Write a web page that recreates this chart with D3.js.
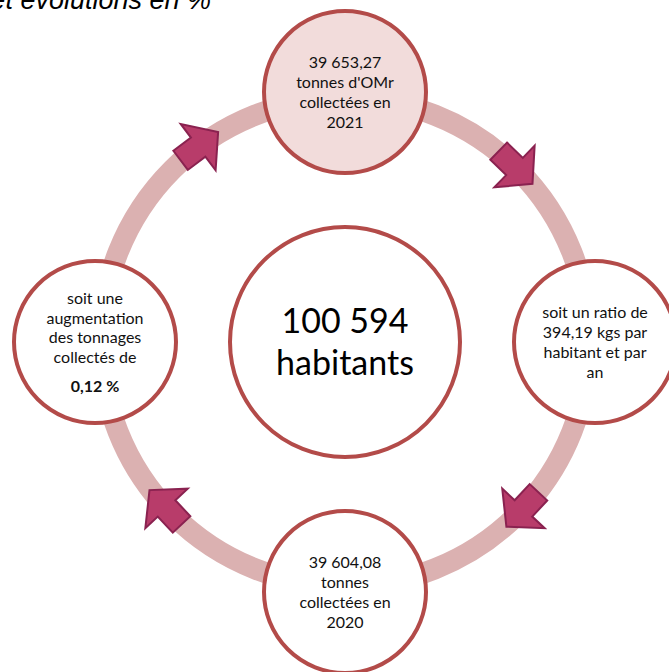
<!DOCTYPE html>
<html>
<head>
<meta charset="utf-8">
<script src="https://cdn.jsdelivr.net/npm/d3@7/dist/d3.min.js"></script>
<style>
  html, body { margin: 0; padding: 0; background: #ffffff; }
  svg { display: block; }
</style>
</head>
<body>
<svg id="chart" width="669" height="672"></svg>
<script>
// ---------- data ----------
const titleText = "et évolutions en %";
const centerLines = ["100 594", "habitants"];
const satelliteAngles = [-90, 0, 90, 180];           // degrees: top, right, bottom, left
const satelliteLines = [
  ["39 653,27", "tonnes d'OMr", "collectées en", "2021"],
  ["soit un ratio de", "394,19 kgs par", "habitant et par", "an"],
  ["39 604,08", "tonnes", "collectées en", "2020"],
  ["soit une", "augmentation", "des tonnages", "collectés de"]
];
const satelliteBold = ["", "", "", "0,12 %"];
const arrowAngles = [-127, -46, 43, 137];            // degrees along the cycle

// ---------- layout / style ----------
const W = 669, H = 672;
const cx = 345, cy = 342;
const ringR = 244, ringW = 21;
const satR = 250, satCircleR = 81;
const centerR = 115;
const strokeCol = "#b34b49";
const ringCol = "#dbb1b1";
const arrowFill = "#b83c6a", arrowStroke = "#8a2250";
const font = "Lato, 'Open Sans', sans-serif";

const svg = d3.select("#chart");
const angle = d3.scaleLinear().domain([0, 360]).range([0, 2 * Math.PI]);
const px = (a, r) => cx + r * Math.cos(angle(a));
const py = (a, r) => cy + r * Math.sin(angle(a));

// title (cut off at top, as in the source)
svg.append("text")
  .attr("x", 211).attr("y", 9)
  .attr("text-anchor", "end")
  .attr("font-family", "'Liberation Sans', Arial, sans-serif")
  .attr("font-style", "italic")
  .attr("font-size", 27)
  .attr("fill", "#000")
  .text(titleText);

// ring
svg.append("circle")
  .attr("cx", cx).attr("cy", cy).attr("r", ringR)
  .attr("fill", "none")
  .attr("stroke", ringCol)
  .attr("stroke-width", ringW);

// arrows
const arrowShape = [[-22, -12], [0, -12], [0, -29], [25, 0], [0, 29], [0, 12], [-22, 12]];
const line = d3.line().curve(d3.curveLinearClosed);
svg.append("g").selectAll("path")
  .data(arrowAngles)
  .join("path")
  .attr("d", line(arrowShape))
  .attr("transform", a => `translate(${px(a, ringR)},${py(a, ringR)}) rotate(${a + 90})`)
  .attr("fill", arrowFill)
  .attr("stroke", arrowStroke)
  .attr("stroke-width", 2)
  .attr("stroke-linejoin", "miter");

// satellites
const sat = svg.append("g").selectAll("g")
  .data(satelliteAngles.map((a, i) => ({ a, lines: satelliteLines[i], bold: satelliteBold[i], i })))
  .join("g")
  .attr("transform", d => `translate(${px(d.a, satR)},${py(d.a, satR)})`);

sat.append("circle")
  .attr("r", satCircleR)
  .attr("fill", d => d.i === 0 ? "#f2dcdb" : "#ffffff")
  .attr("stroke", strokeCol)
  .attr("stroke-width", 4);

const lineH = 19.7, boldGap = 29;
sat.each(function (d) {
  const g = d3.select(this);
  const offs = d.lines.map((_, k) => k * lineH);
  if (d.bold) offs.push(offs[offs.length - 1] + boldGap);
  const span = offs[offs.length - 1];
  const y0 = 6 - span / 2;
  d.lines.forEach((t, k) => {
    g.append("text")
      .attr("x", 0).attr("y", y0 + offs[k])
      .attr("text-anchor", "middle")
      .attr("font-family", font)
      .attr("font-size", 16)
      .attr("fill", "#111")
      .text(t);
  });
  if (d.bold) {
    g.append("text")
      .attr("x", 0).attr("y", y0 + offs[offs.length - 1])
      .attr("text-anchor", "middle")
      .attr("font-family", font)
      .attr("font-weight", "bold")
      .attr("font-size", 16)
      .attr("fill", "#111")
      .text(d.bold);
  }
});

// center
svg.append("circle")
  .attr("cx", cx).attr("cy", cy).attr("r", centerR)
  .attr("fill", "#ffffff")
  .attr("stroke", strokeCol)
  .attr("stroke-width", 4);

svg.append("g").selectAll("text")
  .data(centerLines)
  .join("text")
  .attr("x", cx)
  .attr("y", (d, i) => cy + (i - 0.5) * 42 + 12)
  .attr("text-anchor", "middle")
  .attr("font-family", font)
  .attr("font-size", 34)
  .attr("fill", "#000")
  .text(d => d);
</script>
</body>
</html>
